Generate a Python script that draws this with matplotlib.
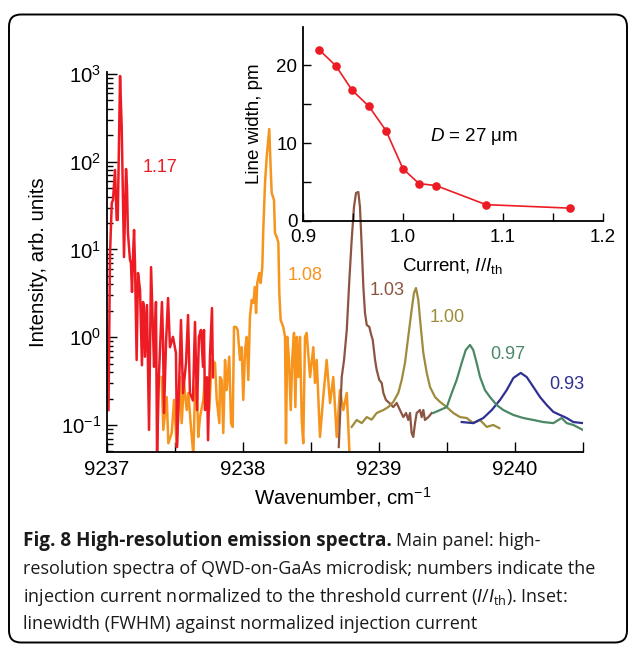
import matplotlib
matplotlib.use('Agg')
import matplotlib.pyplot as plt
from matplotlib.patches import FancyBboxPatch
from matplotlib.ticker import LogLocator, FixedLocator, NullFormatter

plt.rcParams['font.family'] = ['Liberation Sans', 'DejaVu Sans']
plt.rcParams['mathtext.fontset'] = 'custom'
plt.rcParams['mathtext.rm'] = 'Liberation Sans'
plt.rcParams['mathtext.it'] = 'Liberation Sans:italic'
plt.rcParams['mathtext.bf'] = 'Liberation Sans:bold'

# ---------------- data ----------------
wn_117 = [9237.011, 9237.022, 9237.035, 9237.044, 9237.059, 9237.071, 9237.079, 9237.096, 9237.108, 9237.125,
          9237.140, 9237.147, 9237.154, 9237.169, 9237.176, 9237.184, 9237.191, 9237.199, 9237.206, 9237.218,
          9237.228, 9237.243, 9237.257, 9237.265, 9237.272, 9237.279, 9237.294, 9237.309, 9237.324, 9237.338,
          9237.346, 9237.360, 9237.368, 9237.382, 9237.404, 9237.412, 9237.419, 9237.434, 9237.449, 9237.463,
          9237.485, 9237.507, 9237.515, 9237.529, 9237.544, 9237.559, 9237.581, 9237.596, 9237.610, 9237.632,
          9237.647, 9237.662, 9237.676, 9237.691, 9237.706, 9237.713, 9237.721, 9237.735, 9237.743, 9237.757,
          9237.772, 9237.779]
int_117 = [0.148, 8.65, 33.9, 36.6, 80.5, 21.7, 21.7, 949, 249, 8.2,
           82.7, 51.5, 15.4, 7.6, 7.0, 3.28, 8.2, 16.7, 6.65, 0.55,
           5.4, 3.45, 0.48, 2.52, 2.21, 0.60, 2.33, 0.088, 6.3, 1.21,
           0.46, 2.52, 0.045, 0.37, 2.52, 0.93, 0.137, 0.86, 2.80, 0.77,
           1.01, 0.66, 0.056, 0.25, 1.57, 0.23, 0.51, 1.79, 0.23, 0.19,
           1.49, 0.148, 1.01, 1.21, 0.46, 1.21, 0.148, 0.35, 0.067, 0.60,
           2.15, 0.35]

wn_108 = [9237.402, 9237.414, 9237.439, 9237.451, 9237.476, 9237.493, 9237.513, 9237.537, 9237.549, 9237.566,
          9237.586, 9237.598, 9237.615, 9237.635, 9237.647, 9237.660, 9237.671, 9237.684, 9237.708, 9237.721,
          9237.733, 9237.752, 9237.770, 9237.794, 9237.807, 9237.826, 9237.831, 9237.843, 9237.855, 9237.868,
          9237.880, 9237.899, 9237.912, 9237.924, 9237.934, 9237.949, 9237.961, 9237.978, 9237.990, 9238.002,
          9238.015, 9238.027, 9238.039, 9238.051, 9238.064, 9238.076, 9238.088, 9238.096, 9238.105, 9238.120,
          9238.130, 9238.142, 9238.149, 9238.162, 9238.174, 9238.193, 9238.204, 9238.211, 9238.228, 9238.235,
          9238.248, 9238.260, 9238.267, 9238.277, 9238.296, 9238.309, 9238.316, 9238.326, 9238.338, 9238.351,
          9238.363, 9238.375, 9238.385, 9238.395, 9238.407, 9238.419, 9238.432, 9238.443, 9238.456, 9238.468,
          9238.493, 9238.517, 9238.529, 9238.542, 9238.566, 9238.590, 9238.615, 9238.640, 9238.664, 9238.689,
          9238.713, 9238.738, 9238.763, 9238.782]
int_108 = [0.352, 0.088, 0.208, 0.062, 0.081, 0.193, 0.056, 0.352, 0.105, 0.301,
           0.148, 0.232, 0.105, 0.045, 0.25, 0.31, 0.073, 0.123, 0.193, 0.352,
           0.232, 0.148, 0.551, 0.51, 0.193, 0.105, 0.352, 0.326, 0.081, 0.551,
           0.25, 0.60, 0.105, 0.095, 1.31, 1.31, 1.21, 0.551, 0.77, 0.193,
           0.716, 1.01, 0.326, 1.70, 2.66, 2.46, 3.74, 1.89, 4.15, 5.40,
           4.15, 6.32, 16.7, 57.3, 113, 236, 80.5, 44.1, 36.6, 15.4,
           13.9, 11.9, 3.19, 1.57, 1.31, 1.01, 0.062, 1.01, 0.551, 0.148,
           0.60, 1.12, 0.160, 1.01, 0.352, 1.01, 0.114, 0.062, 1.01, 1.12,
           0.352, 0.77, 0.301, 0.551, 0.073, 0.208, 0.551, 0.178, 0.352, 0.073,
           0.25, 0.148, 0.232, 0.052]

wn_103 = [9238.704, 9238.726, 9238.743, 9238.763, 9238.782, 9238.799, 9238.816, 9238.831, 9238.848, 9238.860,
          9238.873, 9238.885, 9238.897, 9238.910, 9238.929, 9238.939, 9238.954, 9238.971, 9238.983, 9239.002,
          9239.020, 9239.032, 9239.051, 9239.076, 9239.105, 9239.130, 9239.154, 9239.179, 9239.199, 9239.215,
          9239.228, 9239.240, 9239.252, 9239.265, 9239.277, 9239.301, 9239.314, 9239.326, 9239.338, 9239.363,
          9239.388]
int_103 = [0.056, 0.352, 0.551, 1.21, 4.49, 12.8, 30.5, 44.1, 45.2, 30.5,
           10.7, 3.74, 1.89, 1.38, 1.31, 1.12, 0.93, 0.551, 0.424, 0.326,
           0.301, 0.232, 0.193, 0.178, 0.160, 0.178, 0.148, 0.123, 0.137, 0.114,
           0.137, 0.081, 0.073, 0.105, 0.137, 0.148, 0.123, 0.148, 0.114, 0.123,
           0.137]

wn_100 = [9238.799, 9238.836, 9238.873, 9238.910, 9238.946, 9238.983, 9239.032, 9239.068, 9239.105, 9239.142,
          9239.167, 9239.191, 9239.215, 9239.240, 9239.257, 9239.272, 9239.289, 9239.307, 9239.326, 9239.351,
          9239.375, 9239.412, 9239.449, 9239.498, 9239.546, 9239.596, 9239.645, 9239.693, 9239.743, 9239.792,
          9239.840, 9239.885]
int_100 = [0.095, 0.114, 0.105, 0.123, 0.115, 0.137, 0.148, 0.160, 0.183, 0.232,
           0.326, 0.51, 1.01, 2.05, 3.19, 3.64, 2.66, 1.31, 0.66, 0.392,
           0.271, 0.208, 0.183, 0.160, 0.137, 0.123, 0.120, 0.105, 0.114, 0.095,
           0.100, 0.092]

wn_097 = [9239.399, 9239.449, 9239.498, 9239.535, 9239.571, 9239.608, 9239.638, 9239.669, 9239.693, 9239.718,
          9239.743, 9239.779, 9239.816, 9239.865, 9239.914, 9239.988, 9240.061, 9240.135, 9240.208, 9240.282,
          9240.343, 9240.380, 9240.429, 9240.498]
int_097 = [0.137, 0.148, 0.160, 0.232, 0.326, 0.51, 0.716, 0.817, 0.716, 0.51,
           0.352, 0.25, 0.208, 0.169, 0.148, 0.130, 0.120, 0.114, 0.108, 0.105,
           0.120, 0.105, 0.100, 0.088]

wn_093 = [9239.608, 9239.693, 9239.767, 9239.829, 9239.890, 9239.939, 9239.988, 9240.042, 9240.086, 9240.135,
          9240.184, 9240.233, 9240.282, 9240.331, 9240.380, 9240.429, 9240.498]
int_093 = [0.108, 0.105, 0.120, 0.148, 0.193, 0.25, 0.343, 0.392, 0.352, 0.271,
           0.208, 0.169, 0.141, 0.130, 0.120, 0.108, 0.105]

spec_labels = ['1.17', '1.08', '1.03', '1.00', '0.97', '0.93']
label_wn = [9237.26, 9238.33, 9238.93, 9239.375, 9239.816, 9240.25]
label_int = [85, 5.0, 3.45, 1.66, 0.63, 0.293]

current = [0.916, 0.933, 0.949, 0.966, 0.983, 1.000, 1.016, 1.033, 1.083, 1.167]
linewidth = [22.0, 19.9, 16.8, 14.7, 11.6, 6.7, 4.8, 4.55, 2.1, 1.65]

colors = {'1.17': '#ED1C24', '1.08': '#F7941D', '1.03': '#8C5541',
          '1.00': '#9E8B3C', '0.97': '#4A8866', '0.93': '#2E3192'}

# ---------------- figure ----------------
W, H = 630, 646
fig = plt.figure(figsize=(W / 100, H / 100), dpi=100)

def px_axes(x0, y0, x1, y1):
    return [x0 / W, 1 - y1 / H, (x1 - x0) / W, (y1 - y0) / H]

# frame
frame = FancyBboxPatch((0.09, 0.035), 6.18, 6.28,
                       boxstyle='round,pad=0,rounding_size=0.12',
                       transform=fig.dpi_scale_trans, fill=False,
                       edgecolor='black', linewidth=1.4, zorder=0)
fig.patches.append(frame)

ax = fig.add_axes(px_axes(107, 72, 583, 452))
series = [(wn_108, int_108, '1.08', 1.8), (wn_117, int_117, '1.17', 1.8),
          (wn_103, int_103, '1.03', 1.6), (wn_100, int_100, '1.00', 1.6),
          (wn_093, int_093, '0.93', 1.6), (wn_097, int_097, '0.97', 1.6)]
for wn, it, key, lw in series:
    ax.plot(wn, it, color=colors[key], lw=lw, solid_joinstyle='round')
for lab, x, y in zip(spec_labels, label_wn, label_int):
    ax.text(x, y, lab, color=colors[lab], fontsize=13, ha='left', va='center')

ax.set_yscale('log')
ax.set_xlim(9237.0, 9240.5)
ax.set_ylim(0.0492, 1054)
ax.xaxis.set_major_locator(FixedLocator([9237, 9237.5, 9238, 9238.5, 9239, 9239.5, 9240, 9240.5]))
ax.set_xticklabels(['9237', '', '9238', '', '9239', '', '9240', ''])
ax.yaxis.set_major_locator(LogLocator(base=10, numticks=10))
ax.yaxis.set_minor_locator(LogLocator(base=10, subs=range(2, 10), numticks=20))
ax.yaxis.set_minor_formatter(NullFormatter())
for s in ('top', 'right'):
    ax.spines[s].set_visible(False)
for s in ('left', 'bottom'):
    ax.spines[s].set_linewidth(1.3)
ax.tick_params(which='both', direction='in', width=1.0, labelsize=14.7)
ax.tick_params(which='major', length=7)
ax.tick_params(which='minor', length=4)
ax.tick_params(axis='x', pad=6)
ax.tick_params(axis='y', pad=4)
ax.set_xlabel('Wavenumber, cm$^{\\mathdefault{-1}}$', fontsize=14.7, va='top')
ax.xaxis.set_label_coords(0.496, -(485 - 452) / 380)
ax.set_ylabel('Intensity, arb. units', fontsize=14.7)
ax.yaxis.set_label_coords((48 - 107) / 476, 0.5)

# inset
ins = fig.add_axes(px_axes(303, 27, 603, 221))
ins.plot(current, linewidth, color='#ED1C24', lw=1.2, marker='o', ms=6.2,
         markeredgewidth=0)
ins.set_xlim(0.9, 1.2)
ins.set_ylim(0, 24.9)
ins.xaxis.set_major_locator(FixedLocator([0.9, 1.0, 1.1, 1.2]))
ins.xaxis.set_minor_locator(FixedLocator([0.95, 1.05, 1.15]))
ins.set_xticklabels(['0.9', '1.0', '1.1', '1.2'])
ins.yaxis.set_major_locator(FixedLocator([0, 10, 20]))
ins.yaxis.set_minor_locator(FixedLocator([5, 15]))
ins.set_yticklabels(['0', '10', '20'])
for s in ('top', 'right'):
    ins.spines[s].set_visible(False)
for s in ('left', 'bottom'):
    ins.spines[s].set_linewidth(1.3)
ins.tick_params(which='both', direction='in', width=1.0, length=6, labelsize=13.5)
ins.tick_params(axis='x', pad=6)
ins.tick_params(axis='y', pad=4)
ins.patch.set_alpha(0)
ins.set_xlabel('Current, $I$/$I_{\\mathdefault{th}}$', fontsize=13.5, va='top')
ins.xaxis.set_label_coords(0.497, -(256 - 221) / 194)
ins.set_ylabel('Line width, pm', fontsize=13.5)
ins.yaxis.set_label_coords((263 - 303) / 300, 0.5)
ins.text(1.027, 10.9, '$D$ = 27 \u03bcm', fontsize=13.5, ha='left', va='center')

# caption
cap_font = ['Open Sans', 'DejaVu Sans']
cap_size = 13.0
cap_color = '#1a1a1a'
x0 = 23 / W
fig.canvas.draw()
r = fig.canvas.get_renderer()
t1 = fig.text(x0, 1 - 546 / H, 'Fig. 8 High-resolution emission spectra.', family=cap_font,
              weight='bold', fontsize=13.6, va='baseline', ha='left', color=cap_color)
bb = t1.get_window_extent(renderer=r)
fig.text(bb.x1 / W + 4 / W, 1 - 546 / H, 'Main panel: high-', family=cap_font,
         fontsize=cap_size, va='baseline', ha='left', color=cap_color)
cap_lines = ['resolution spectra of QWD-on-GaAs microdisk; numbers indicate the',
             'injection current normalized to the threshold current ($I$/$I_{\\mathdefault{th}}$). Inset:',
             'linewidth (FWHM) against normalized injection current']
for i, line in enumerate(cap_lines):
    fig.text(x0, 1 - (574 + 27.5 * i) / H, line, family=cap_font, fontsize=cap_size,
             va='baseline', ha='left', color=cap_color)

fig.savefig('out.png', dpi=100)
